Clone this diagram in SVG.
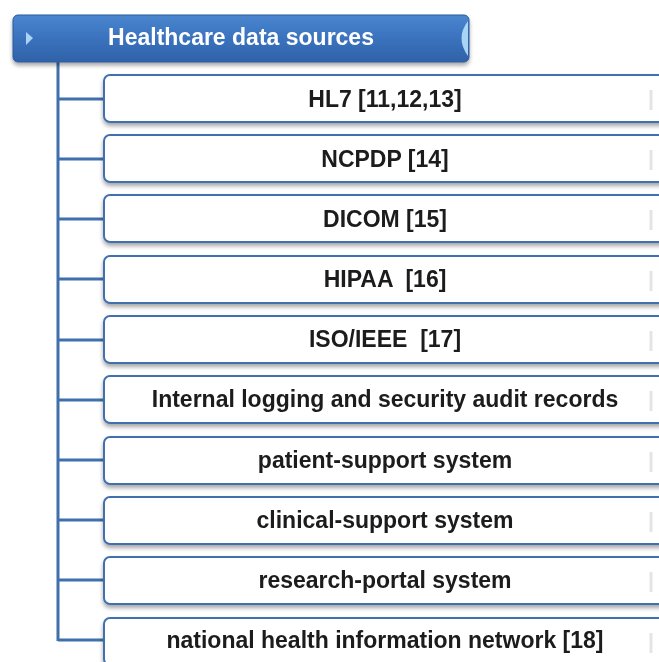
<svg xmlns="http://www.w3.org/2000/svg" width="659" height="662" viewBox="0 0 659 662">
  <defs>
    <linearGradient id="hdrFill" x1="0" y1="0" x2="0" y2="1">
      <stop offset="0" stop-color="#4a86cf"/>
      <stop offset="0.5" stop-color="#3a72bd"/>
      <stop offset="1" stop-color="#2f62a8"/>
    </linearGradient>
    <filter id="shadow" x="-5%" y="-20%" width="110%" height="150%">
      <feGaussianBlur in="SourceAlpha" stdDeviation="2"/>
      <feOffset dx="0" dy="3"/>
      <feComponentTransfer><feFuncA type="linear" slope="0.35"/></feComponentTransfer>
      <feMerge><feMergeNode/><feMergeNode in="SourceGraphic"/></feMerge>
    </filter>
  </defs>
  <style>
    .item rect { fill: #ffffff; stroke: #3f6fad; stroke-width: 2; }
    .item .cap { fill: none; stroke: #e4e4e4; stroke-width: 3; }
    .item text { font-family: "Liberation Sans", Arial, sans-serif; font-weight: bold; font-size: 23px; fill: #1a1a1a; text-anchor: middle; }
    .link { stroke: #3f6fad; stroke-width: 3; fill: none; }
  </style>
  <rect width="659" height="662" fill="#ffffff"/>

  <!-- tree connectors -->
  <g id="connectors">
    <line class="link" x1="58" y1="62" x2="58" y2="641"/>
    <path class="link" d="M58 99 H104 M58 159 H104 M58 219 H104 M58 279 H104 M58 340 H104 M58 400 H104 M58 460 H104 M58 520 H104 M58 580 H104 M58 640 H104"/>
  </g>

  <!-- root node -->
  <g id="root" filter="url(#shadow)">
    <rect x="13" y="15" width="456" height="47" rx="5" fill="url(#hdrFill)" stroke="#2c5b9c" stroke-width="1"/>
    <polygon points="26,32 33,38 26,45" fill="#a9d4f5"/>
    <path d="M468 21 Q455 38 468 56 Z" fill="#a9d4f5"/>
    <text x="241" y="45" font-family="Liberation Sans, Arial, sans-serif" font-weight="bold" font-size="23" fill="#ffffff" text-anchor="middle">Healthcare data sources</text>
  </g>

  <!-- child nodes -->
  <g id="n1" class="item" filter="url(#shadow)">
    <rect x="104" y="75" width="580" height="47" rx="6"/>
    <line class="cap" x1="651" y1="90" x2="651" y2="110"/>
    <text x="385" y="107">HL7 [11,12,13]</text>
  </g>
  <g id="n2" class="item" filter="url(#shadow)">
    <rect x="104" y="135" width="580" height="47" rx="6"/>
    <line class="cap" x1="651" y1="150" x2="651" y2="170"/>
    <text x="385" y="167">NCPDP [14]</text>
  </g>
  <g id="n3" class="item" filter="url(#shadow)">
    <rect x="104" y="195" width="580" height="47" rx="6"/>
    <line class="cap" x1="651" y1="210" x2="651" y2="230"/>
    <text x="385" y="227">DICOM [15]</text>
  </g>
  <g id="n4" class="item" filter="url(#shadow)">
    <rect x="104" y="256" width="580" height="47" rx="6"/>
    <line class="cap" x1="651" y1="271" x2="651" y2="291"/>
    <text x="385" y="287" xml:space="preserve">HIPAA  [16]</text>
  </g>
  <g id="n5" class="item" filter="url(#shadow)">
    <rect x="104" y="316" width="580" height="47" rx="6"/>
    <line class="cap" x1="651" y1="331" x2="651" y2="351"/>
    <text x="385" y="347" xml:space="preserve">ISO/IEEE  [17]</text>
  </g>
  <g id="n6" class="item" filter="url(#shadow)">
    <rect x="104" y="376" width="580" height="47" rx="6"/>
    <line class="cap" x1="651" y1="391" x2="651" y2="411"/>
    <text x="385" y="407">Internal logging and security audit records</text>
  </g>
  <g id="n7" class="item" filter="url(#shadow)">
    <rect x="104" y="437" width="580" height="47" rx="6"/>
    <line class="cap" x1="651" y1="452" x2="651" y2="472"/>
    <text x="385" y="468">patient-support system</text>
  </g>
  <g id="n8" class="item" filter="url(#shadow)">
    <rect x="104" y="497" width="580" height="47" rx="6"/>
    <line class="cap" x1="651" y1="512" x2="651" y2="532"/>
    <text x="385" y="528">clinical-support system</text>
  </g>
  <g id="n9" class="item" filter="url(#shadow)">
    <rect x="104" y="557" width="580" height="47" rx="6"/>
    <line class="cap" x1="651" y1="572" x2="651" y2="592"/>
    <text x="385" y="588">research-portal system</text>
  </g>
  <g id="n10" class="item" filter="url(#shadow)">
    <rect x="104" y="618" width="580" height="47" rx="6"/>
    <line class="cap" x1="651" y1="633" x2="651" y2="653"/>
    <text x="385" y="648">national health information network [18]</text>
  </g>
</svg>
